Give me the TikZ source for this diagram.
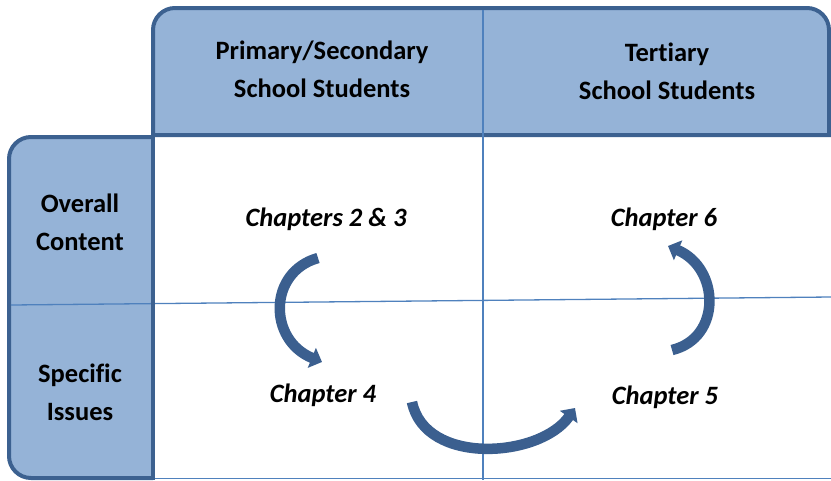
\documentclass[tikz,border=0pt]{standalone}
\usepackage{fontspec}
\setmainfont{Carlito}[Ligatures=NoCommon]
\usetikzlibrary{arrows.meta}
\definecolor{hdrfill}{HTML}{95B3D7}
\definecolor{hdrline}{HTML}{3C6190}
\definecolor{gridline}{HTML}{4F81BD}
\definecolor{arrowdark}{HTML}{3B5F8F}
\tikzset{
  hdrtext/.style={font=\fontsize{26.5}{38}\selectfont\bfseries, align=center, text=black},
  chaptext/.style={font=\fontsize{26.5}{30}\selectfont\bfseries\itshape, text=black},
  bigarrow/.style={draw=arrowdark, line width=10.5pt, -{Triangle[length=11pt,width=21pt]}},
}
\begin{document}
\begin{tikzpicture}[x=1pt,y=-1pt]
\useasboundingbox (0,0) rectangle (831,480);
% header box
\draw[fill=hdrfill, draw=hdrline, line width=4pt, rounded corners=22pt]
  (153,135) -- (153,8) -- (829,8) [sharp corners]-- (829,135) -- cycle;
% side box
\draw[fill=hdrfill, draw=hdrline, line width=4pt, rounded corners=22pt]
  (153,137) -- (9,137) -- (9,478) -- (153,478) [sharp corners];
% thin grid lines
\draw[gridline, line width=1pt] (153,478) -- (831,478);
\draw[gridline, line width=1.3pt] (483,10) -- (483,480);
\draw[gridline, line width=1.3pt] (11,305) -- (831,297);
% thick divider
\draw[hdrline, line width=4pt] (153,133) -- (153,480);
% header texts
\node[hdrtext] (ps) at (322,69) {Primary/Secondary\\School Students};
\node[hdrtext] (ts) at (667,71) {Tertiary\\School Students};
\node[hdrtext] (oc) at (80,222) {Overall\\Content};
\node[hdrtext] (si) at (80,392) {Specific\\Issues};
% chapter labels
\node[chaptext] (c23) at (326,219) {Chapters 2 \& 3};
\node[chaptext] (c6) at (664,219) {Chapter 6};
\node[chaptext] (c4) at (323,395) {Chapter 4};
\node[chaptext] (c5) at (665,397) {Chapter 5};
% arrows
\coordinate (a1s) at (318,258);
\coordinate (a1e) at (322,362);
\coordinate (a2s) at (412,402);
\coordinate (a2e) at (575,408);
\coordinate (a3s) at (672,350);
\coordinate (a3e) at (668,246);
\draw[bigarrow] (a1s) .. controls (268,272) and (268,340) .. (a1e);
\draw[bigarrow] (a2s) .. controls (425,466) and (540,458) .. (a2e);
\draw[bigarrow] (a3s) .. controls (722,338) and (720,268) .. (a3e);
\end{tikzpicture}
\end{document}
